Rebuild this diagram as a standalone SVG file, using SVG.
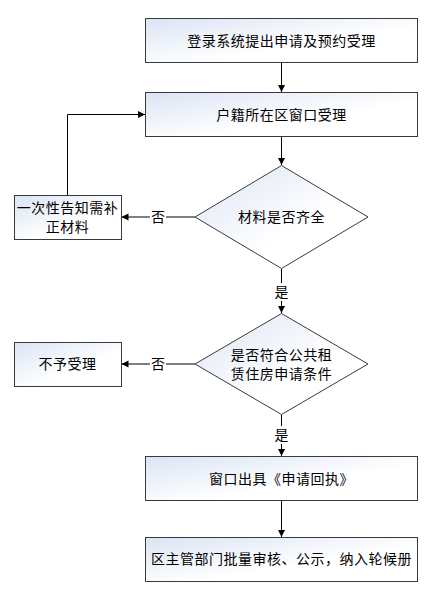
<svg xmlns="http://www.w3.org/2000/svg" width="428" height="592" viewBox="0 0 428 592">
<style>
.n{stroke:#3a3a3a;stroke-width:1;fill:url(#g)}
.t{font-family:"Liberation Sans","Noto Sans CJK SC",sans-serif;font-size:14px;letter-spacing:0.5px;fill:#000;text-anchor:middle;dominant-baseline:central}
.c{stroke:#000;stroke-width:1;fill:none;marker-end:url(#a)}
.l{font-family:"Liberation Sans","Noto Sans CJK SC",sans-serif;font-size:14px;fill:#000;text-anchor:middle;dominant-baseline:central}
</style>
<defs>
<linearGradient id="g" x1="0" y1="0" x2="1" y2="1">
<stop offset="0" stop-color="#dbe4f4"/>
<stop offset="0.6" stop-color="#ffffff"/>
<stop offset="1" stop-color="#ffffff"/>
</linearGradient>
<marker id="a" markerWidth="8" markerHeight="8" refX="7" refY="4" orient="auto" markerUnits="userSpaceOnUse">
<path d="M0,0.5 L7,4 L0,7.5 Z" fill="#000"/>
</marker>
</defs>
<rect width="428" height="592" fill="#fff"/>
<g id="connectors">
<line class="c" x1="281.5" y1="63" x2="281.5" y2="92"/>
<line class="c" x1="281.5" y1="136" x2="281.5" y2="165"/>
<line class="c" x1="195" y1="217" x2="121.5" y2="217"/>
<polyline class="c" points="67.5,195 67.5,114.5 145,114.5"/>
<line class="c" x1="281.5" y1="269" x2="281.5" y2="313"/>
<line class="c" x1="195" y1="364" x2="121.5" y2="364"/>
<line class="c" x1="281.5" y1="415" x2="281.5" y2="456"/>
<line class="c" x1="281.5" y1="500" x2="281.5" y2="537"/>
<rect x="150" y="208" width="16" height="18" fill="#fff"/>
<text class="l" x="158" y="217">否</text>
<rect x="273" y="283" width="17" height="18" fill="#fff"/>
<text class="l" x="281.5" y="292">是</text>
<rect x="150" y="355" width="16" height="18" fill="#fff"/>
<text class="l" x="158" y="364">否</text>
<rect x="273" y="426" width="17" height="18" fill="#fff"/>
<text class="l" x="281.5" y="435">是</text>
</g>
<g id="n1">
<rect class="n" x="145.5" y="18.5" width="272" height="44"/>
<text class="t" x="281.5" y="41">登录系统提出申请及预约受理</text>
</g>
<g id="n2">
<rect class="n" x="145.5" y="92.5" width="272" height="44"/>
<text class="t" x="281.5" y="115">户籍所在区窗口受理</text>
</g>
<g id="d1">
<polygon class="n" points="281.5,165.5 368,217 281.5,268.5 195,217"/>
<text class="t" x="281.5" y="217">材料是否齐全</text>
</g>
<g id="b1">
<rect class="n" x="14.5" y="195.5" width="107" height="44"/>
<text class="t" x="67.5" y="208">一次性告知需补</text>
<text class="t" x="67.5" y="227">正材料</text>
</g>
<g id="d2">
<polygon class="n" points="281.5,313.5 368,364 281.5,414.5 195,364"/>
<text class="t" x="281.5" y="355">是否符合公共租</text>
<text class="t" x="281.5" y="374">赁住房申请条件</text>
</g>
<g id="b2">
<rect class="n" x="14.5" y="342.5" width="107" height="44"/>
<text class="t" x="67.5" y="364">不予受理</text>
</g>
<g id="n3">
<rect class="n" x="145.5" y="456.5" width="272" height="44"/>
<text class="t" x="281.5" y="479">窗口出具《申请回执》</text>
</g>
<g id="n4">
<rect class="n" x="145.5" y="537.5" width="272" height="44"/>
<text class="t" x="281.5" y="559">区主管部门批量审核、公示，纳入轮候册</text>
</g>
</svg>
